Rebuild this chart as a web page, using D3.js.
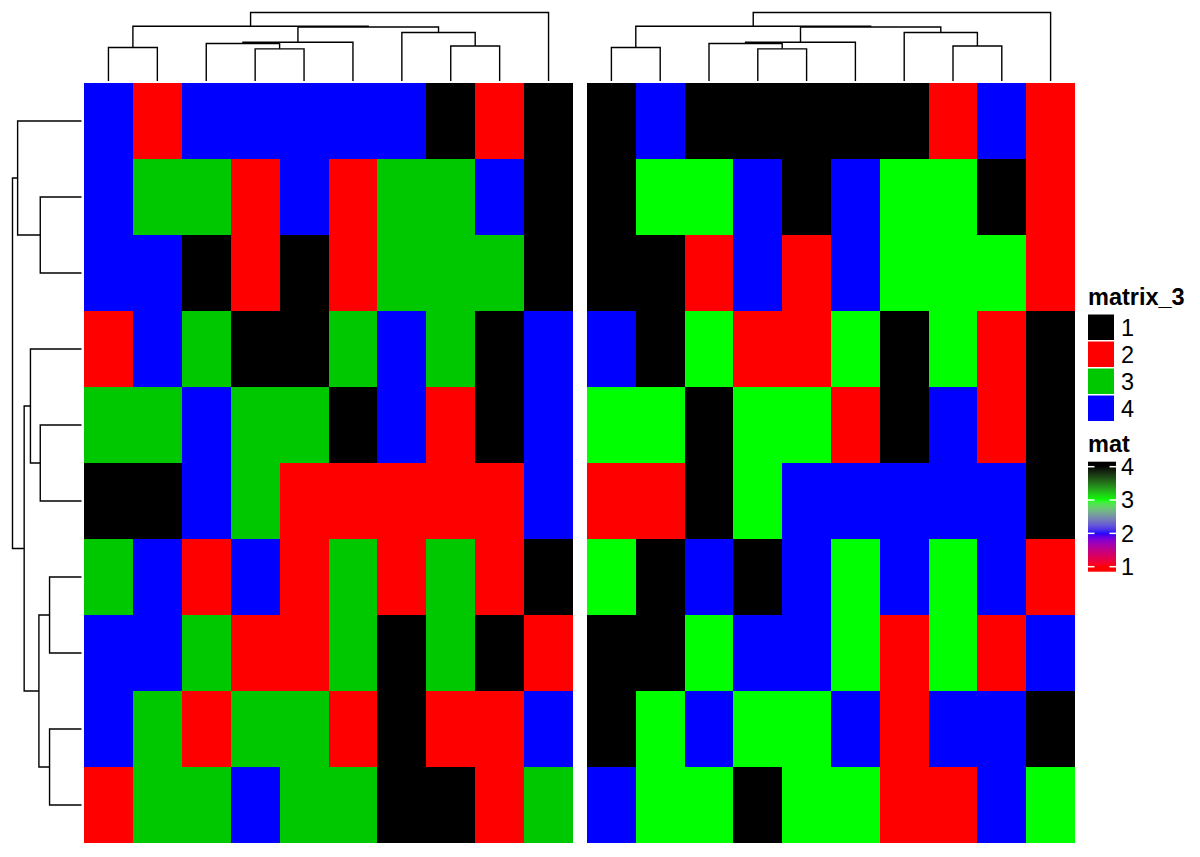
<!DOCTYPE html>
<html>
<head>
<meta charset="utf-8">
<script src="https://cdn.jsdelivr.net/npm/d3@7"></script>
<style>
  body { margin: 0; background: #fff; }
  svg { display: block; font-family: "Liberation Sans", Arial, Helvetica, sans-serif; }
</style>
</head>
<body>
<svg id="chart" width="1200" height="857"></svg>
<script>
// matrix values, rows top to bottom / columns left to right as displayed
const row1  = [4,2,4,4,4,4,4,1,2,1];
const row2  = [4,3,3,2,4,2,3,3,4,1];
const row3  = [4,4,1,2,1,2,3,3,3,1];
const row4  = [2,4,3,1,1,3,4,3,1,4];
const row5  = [3,3,4,3,3,1,4,2,1,4];
const row6  = [1,1,4,3,2,2,2,2,2,4];
const row7  = [3,4,2,4,2,3,2,3,2,1];
const row8  = [4,4,3,2,2,3,1,3,1,2];
const row9  = [4,3,2,3,3,2,1,2,2,4];
const row10 = [2,3,3,4,3,3,1,1,2,3];
const mat = [row1,row2,row3,row4,row5,row6,row7,row8,row9,row10];

const levels = [1,2,3,4];
const discreteColours = ["#000000","#FF0000","#00C800","#0000FF"];   // matrix_3
const rampColours = ["#FF0000","#0000FF","#00FF00","#000000"];       // mat

// dendrogram shapes (leaves = display index), merge heights come from the data
const colTree = [[[0,1],[[[2,[3,4]],5],[6,[7,8]]]],9];
const rowTree = [[0,[1,2]],[[3,[4,5]],[[6,7],[8,9]]]];

const DIMNS = {
    panels: [ { x0:84, x1:573 }, { x0:587, x1:1075 } ],
    top: 83, bottom: 843,
    colDend: { base:81, top:12.5 },
    rowDend: { base:81.5, top:12.5 },
    legendX: 1088
};

const svg = d3.select("#chart");

const discreteScale = d3.scaleOrdinal().domain(levels).range(discreteColours);
const rampScale = d3.scaleLinear().domain(levels).range(rampColours)
    .interpolate(d3.interpolateLab).clamp(true);

const nRow = mat.length, nCol = mat[0].length;
const rowVecs = mat;
const colVecs = d3.range(nCol).map(j => mat.map(r => r[j]));

const yBand = d3.scaleBand().domain(d3.range(nRow)).range([DIMNS.top, DIMNS.bottom]);

function dist(a, b){
    return Math.sqrt(d3.sum(a, (v,i) => (v - b[i]) ** 2));
}

// complete linkage heights + midpoint positions
function buildDend(tree, vecs, leafPos){
    const root = d3.hierarchy(tree, d => Array.isArray(d) ? d : null);
    root.eachAfter(node => {
        if(!node.children){
            node.h = 0;
            node.pos = leafPos(node.data);
            return;
        }
        const [a, b] = node.children;
        node.h = d3.max(a.leaves(), la => d3.max(b.leaves(), lb => dist(vecs[la.data], vecs[lb.data])));
        node.pos = (a.pos + b.pos) / 2;
    });
    return root;
}

function drawDend(g, root, hScale, horizontal){
    const links = root.descendants().filter(n => n.children);
    g.selectAll("path.dend").data(links).enter()
        .append("path")
            .attr("class", "dend")
            .attr("fill", "none")
            .attr("stroke", "#000")
            .attr("stroke-width", 1.4)
            .attr("d", n => {
                const [a, b] = n.children;
                if(horizontal){
                    return `M${hScale(a.h)},${a.pos}H${hScale(n.h)}V${b.pos}H${hScale(b.h)}`;
                }
                return `M${a.pos},${hScale(a.h)}V${hScale(n.h)}H${b.pos}V${hScale(b.h)}`;
            });
}

// heatmap bodies + column dendrograms
DIMNS.panels.forEach((p, k) => {
    const xBand = d3.scaleBand().domain(d3.range(nCol)).range([p.x0, p.x1]);
    const fill = k === 0 ? discreteScale : rampScale;

    const bodyG = svg.append("g").attr("class", `heatmap-${k}`)
        .attr("shape-rendering", "crispEdges");
    const cells = [];
    mat.forEach((r, i) => r.forEach((v, j) => cells.push({ i, j, v })));
    bodyG.selectAll("rect").data(cells).enter()
        .append("rect")
            .attr("x", d => Math.round(xBand(d.j)))
            .attr("y", d => Math.round(yBand(d.i)))
            .attr("width", d => Math.round(xBand(d.j) + xBand.bandwidth()) - Math.round(xBand(d.j)))
            .attr("height", d => Math.round(yBand(d.i) + yBand.bandwidth()) - Math.round(yBand(d.i)))
            .attr("fill", d => fill(d.v));

    const colRoot = buildDend(colTree, colVecs, j => xBand(j) + xBand.bandwidth() / 2);
    const hScale = d3.scaleLinear().domain([0, colRoot.h]).range([DIMNS.colDend.base, DIMNS.colDend.top]);
    drawDend(svg.append("g").attr("class", `col-dend-${k}`), colRoot, hScale, false);
});

// row dendrogram
const rowRoot = buildDend(rowTree, rowVecs, i => yBand(i) + yBand.bandwidth() / 2);
const rowH = d3.scaleLinear().domain([0, rowRoot.h]).range([DIMNS.rowDend.base, DIMNS.rowDend.top]);
drawDend(svg.append("g").attr("class", "row-dend"), rowRoot, rowH, true);

// legends
const fontSize = 23.5;
const lx = DIMNS.legendX;
const legG = svg.append("g").attr("class", "legends");

// discrete legend
legG.append("text")
    .attr("x", lx).attr("y", 305)
    .attr("font-size", fontSize).attr("font-weight", "bold")
    .text("matrix_3");
const gridStep = 27, gridTop = 314;
levels.forEach((lv, i) => {
    legG.append("rect")
        .attr("x", lx).attr("y", gridTop + i * gridStep + 0.5)
        .attr("width", 26).attr("height", gridStep - 1.5)
        .attr("fill", discreteScale(lv));
    legG.append("text")
        .attr("x", lx + 33).attr("y", gridTop + i * gridStep + gridStep / 2)
        .attr("dy", "0.36em")
        .attr("font-size", fontSize)
        .text(lv);
});

// continuous legend
legG.append("text")
    .attr("x", lx).attr("y", 452)
    .attr("font-size", fontSize).attr("font-weight", "bold")
    .text("mat");
const barY = d3.scaleLinear().domain([1, 4]).range([566.7, 466.7]);
const barW = 28;
const grad = svg.append("defs").append("linearGradient")
    .attr("id", "mat-grad")
    .attr("gradientUnits", "userSpaceOnUse")
    .attr("x1", 0).attr("x2", 0)
    .attr("y1", barY(1) + 5).attr("y2", barY(4) - 5);
d3.range(0, 1.0001, 0.02).forEach(t => {
    const v = barY.invert(barY(1) + 5 + t * (barY(4) - barY(1) - 10));
    grad.append("stop").attr("offset", t).attr("stop-color", rampScale(v));
});
legG.append("rect")
    .attr("x", lx).attr("y", barY(4) - 5)
    .attr("width", barW).attr("height", barY(1) - barY(4) + 10)
    .attr("fill", "url(#mat-grad)");
levels.forEach(lv => {
    const y = barY(lv);
    legG.append("line").attr("x1", lx).attr("x2", lx + 6.5).attr("y1", y).attr("y2", y)
        .attr("stroke", "#fff").attr("stroke-width", 1.5);
    legG.append("line").attr("x1", lx + barW - 6.5).attr("x2", lx + barW).attr("y1", y).attr("y2", y)
        .attr("stroke", "#fff").attr("stroke-width", 1.5);
    legG.append("text")
        .attr("x", lx + 33).attr("y", y)
        .attr("dy", "0.36em")
        .attr("font-size", fontSize)
        .text(lv);
});
</script>
</body>
</html>
